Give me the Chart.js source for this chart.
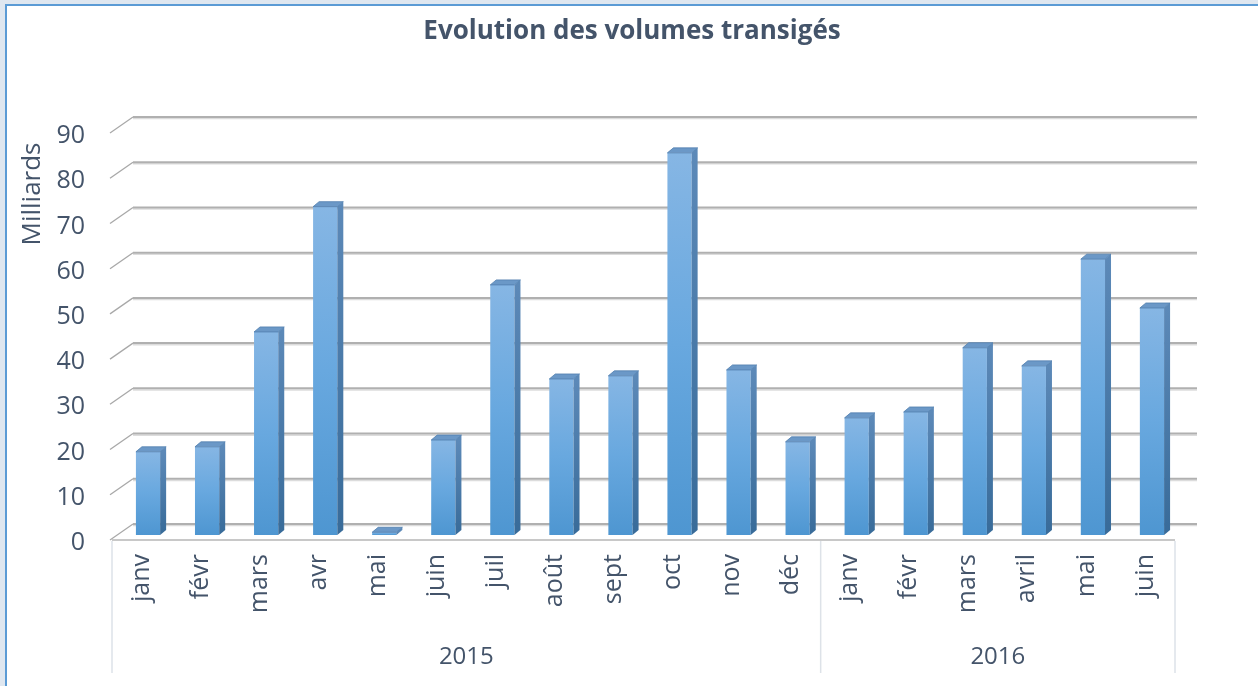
<!DOCTYPE html>
<html>
<head>
<meta charset="utf-8">
<script src="https://cdn.jsdelivr.net/npm/chart.js"></script>
<style>
  body { margin: 0; background: #dfe7f0; overflow: hidden; }
  #cadre { position: absolute; left: 5px; top: 4px; width: 1300px; height: 720px; border: 2px solid #5b9bd5; background: #fff; }
  #graphique { position: absolute; left: 0; top: 0; }
</style>
</head>
<body>
<div id="cadre"></div>
<canvas id="graphique" width="1258" height="686"></canvas>
<script>
// donnees (en milliards)
const mois = ["janv", "févr", "mars", "avr", "mai", "juin", "juil", "août", "sept", "oct", "nov", "déc",
              "janv", "févr", "mars", "avril", "mai", "juin"];
const annees = ["2015", "2016"];
const moisParAnnee = [12, 6];
const volumes = [18.4, 19.5, 44.9, 72.6, 0.6, 21, 55.3, 34.5, 35.2, 84.5, 36.5, 20.6,
                 25.9, 27.2, 41.4, 37.4, 61, 50.2];
const axeY = { min: 0, max: 90, pas: 10 };
const titre = "Evolution des volumes transigés";
const titreAxeY = "Milliards";

const couleurTexte = "#44546a";
const police = "'Open Sans', 'DejaVu Sans', sans-serif";

// profondeur du "3D"
const murX = 21, murY = 16;      // decalage du mur du fond
const barreX = 6.5, barreY = 5;  // position de la face avant des barres
const epX = 6, epY = 5;          // epaisseur des barres

function degradeBarre(ctx) {
    const chart = ctx.chart;
    if (!chart.chartArea) return "#5b9bd5";
    const y = chart.scales.y;
    const haut = y.getPixelForValue(volumes[ctx.dataIndex]);
    const bas = y.getPixelForValue(0);
    const g = chart.ctx.createLinearGradient(0, haut, 0, bas);
    g.addColorStop(0, "#86b6e4");
    g.addColorStop(0.5, "#68a8df");
    g.addColorStop(1, "#4e96d1");
    return g;
}

const relief = {
    id: "relief",
    beforeDatasetsDraw(chart) {
        const { ctx, chartArea: ca, scales: { y } } = chart;
        ctx.save();
        y.ticks.forEach(t => {
            const yf = y.getPixelForValue(t.value);
            const yb = yf - murY;
            // petite oblique a gauche
            ctx.strokeStyle = "#a8a8a8";
            ctx.lineWidth = 1.3;
            ctx.beginPath();
            ctx.moveTo(ca.left - 2, yf);
            ctx.lineTo(ca.left + murX, yb);
            ctx.stroke();
            // ligne du mur du fond
            ctx.strokeStyle = "#dcdcdc";
            ctx.lineWidth = 1.5;
            ctx.beginPath();
            ctx.moveTo(ca.left + murX, yb + 1.6);
            ctx.lineTo(ca.right + murX + 1, yb + 1.6);
            ctx.stroke();
            ctx.strokeStyle = "#b0b0b0";
            ctx.lineWidth = 2;
            ctx.beginPath();
            ctx.moveTo(ca.left + murX, yb);
            ctx.lineTo(ca.right + murX + 1, yb);
            ctx.stroke();
        });
        ctx.restore();
        ctx.save();
        ctx.translate(barreX, -barreY);
    },
    afterDatasetsDraw(chart) {
        const ctx = chart.ctx;
        chart.getDatasetMeta(0).data.forEach(barre => {
            const { x, y, width, base } = barre.getProps(["x", "y", "width", "base"], true);
            const g = x - width / 2, d = x + width / 2;
            // face laterale
            const lat = ctx.createLinearGradient(0, y, 0, base);
            lat.addColorStop(0, "#5c89b8");
            lat.addColorStop(1, "#386b99");
            ctx.fillStyle = lat;
            ctx.beginPath();
            ctx.moveTo(d, y);
            ctx.lineTo(d + epX, y - epY);
            ctx.lineTo(d + epX, base - epY);
            ctx.lineTo(d, base);
            ctx.closePath();
            ctx.fill();
            // dessus
            ctx.fillStyle = "#6b98c7";
            ctx.strokeStyle = "#517fae";
            ctx.lineWidth = 0.8;
            ctx.beginPath();
            ctx.moveTo(g, y);
            ctx.lineTo(g + epX, y - epY);
            ctx.lineTo(d + epX, y - epY);
            ctx.lineTo(d, y);
            ctx.closePath();
            ctx.fill();
            ctx.stroke();
        });
        ctx.restore();
    },
    afterDraw(chart) {
        const { ctx, chartArea: ca, scales: { x, y } } = chart;
        const y0 = y.getPixelForValue(0);
        const basTableau = chart.height - 13;
        ctx.save();
        // titre, centre sur toute la largeur
        ctx.fillStyle = couleurTexte;
        ctx.font = "bold 26px " + police;
        ctx.textAlign = "center";
        ctx.textBaseline = "middle";
        ctx.fillText(titre, chart.width / 2 + 3, 32);
        // titre de l'axe vertical
        ctx.save();
        ctx.translate(33, ca.top + 61);
        ctx.rotate(-Math.PI / 2);
        ctx.font = "26px " + police;
        ctx.fillText(titreAxeY, 0, 0);
        ctx.restore();
        // bord avant du sol
        ctx.strokeStyle = "#c8c8c8";
        ctx.lineWidth = 2;
        ctx.beginPath();
        ctx.moveTo(ca.left, y0);
        ctx.lineTo(ca.right, y0);
        ctx.stroke();
        // separations des annees
        const pasX = x.getPixelForValue(1) - x.getPixelForValue(0);
        let limites = [x.getPixelForValue(0) - pasX / 2];
        let i = 0;
        moisParAnnee.forEach(n => {
            i += n;
            limites.push(x.getPixelForValue(i - 1) + pasX / 2);
        });
        ctx.strokeStyle = "#dde2e8";
        ctx.lineWidth = 1.5;
        limites.forEach(px => {
            ctx.beginPath();
            ctx.moveTo(px, y0 + 1);
            ctx.lineTo(px, basTableau);
            ctx.stroke();
        });
        ctx.font = "24px " + police;
        annees.forEach((a, k) => {
            ctx.fillText(a, (limites[k] + limites[k + 1]) / 2, basTableau - 16);
        });
        ctx.restore();
    }
};

new Chart(document.getElementById("graphique"), {
    type: "bar",
    data: {
        labels: mois,
        datasets: [{
            data: volumes,
            backgroundColor: degradeBarre,
            borderWidth: 0,
            barPercentage: 0.41,
            categoryPercentage: 1
        }]
    },
    options: {
        responsive: false,
        animation: false,
        layout: { padding: { left: 0, right: 83, top: 133, bottom: 0 } },
        plugins: {
            legend: { display: false },
            tooltip: { enabled: false },
            title: { display: false }
        },
        scales: {
            x: {
                grid: { display: false, drawTicks: false },
                border: { display: false },
                ticks: {
                    autoSkip: false,
                    minRotation: 90,
                    maxRotation: 90,
                    padding: 14,
                    color: couleurTexte,
                    font: { family: police, size: 25 }
                },
                afterFit(scale) { scale.height = 146; }
            },
            y: {
                min: axeY.min,
                max: axeY.max,
                grid: { display: false, drawTicks: false },
                border: { display: false },
                ticks: {
                    stepSize: axeY.pas,
                    padding: 27,
                    labelOffset: 3,
                    color: couleurTexte,
                    font: { family: police, size: 25 }
                },
                afterFit(scale) { scale.width = 112; }
            }
        }
    },
    plugins: [relief]
});
</script>
</body>
</html>
